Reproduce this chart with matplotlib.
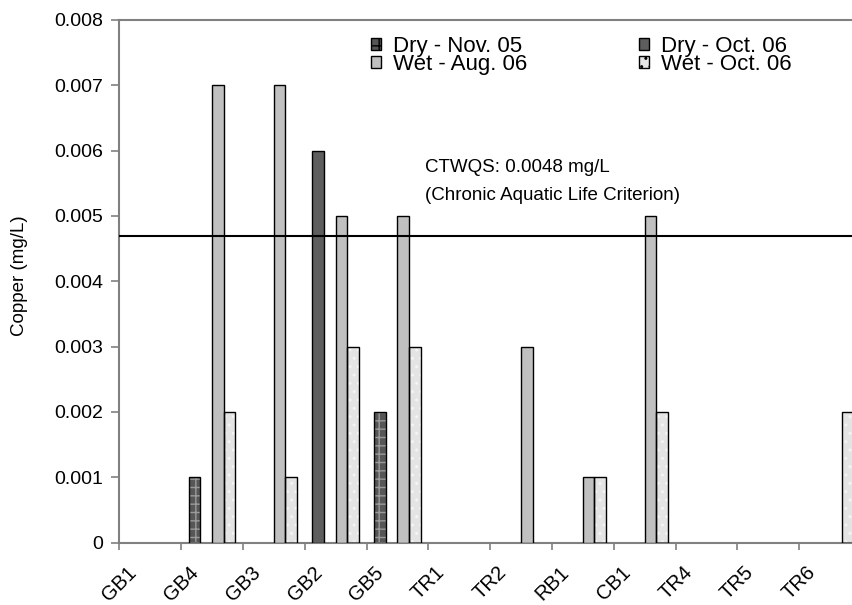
import matplotlib.pyplot as plt
import numpy as np
from matplotlib.patches import Patch

plt.rcParams['font.family'] = ['Liberation Sans', 'DejaVu Sans']

# site order along the x axis
sites = ['GB1', 'GB4', 'GB3', 'GB2', 'GB5', 'TR1', 'TR2', 'RB1', 'CB1', 'TR4', 'TR5', 'TR6']

# copper concentrations (mg/L), nan = no bar
dry_nov05 = [np.nan, 0.001, np.nan, np.nan, 0.002, np.nan, np.nan, np.nan, np.nan, np.nan, np.nan, np.nan]
dry_oct06 = [np.nan, np.nan, np.nan, 0.006, np.nan, np.nan, np.nan, np.nan, np.nan, np.nan, np.nan, np.nan]
wet_aug06 = [np.nan, 0.007, 0.007, 0.005, 0.005, np.nan, 0.003, 0.001, 0.005, np.nan, np.nan, np.nan]
wet_oct06 = [np.nan, 0.002, 0.001, 0.003, 0.003, np.nan, np.nan, 0.001, 0.002, np.nan, np.nan, 0.002]

criterion = 0.0047
yticks = [0, 0.001, 0.002, 0.003, 0.004, 0.005, 0.006, 0.007, 0.008]

# label, values, slot in group, face, hatch, hatch colour
series = [
    ('Dry - Nov. 05', dry_nov05, 0, '#565656', '++', '#9a9a9a'),
    ('Dry - Oct. 06', dry_oct06, 0, '#5e5e5e', None, None),
    ('Wet - Aug. 06', wet_aug06, 2, '#c0c0c0', None, None),
    ('Wet - Oct. 06', wet_oct06, 3, '#e4e4e4', '..', '#f4f4f4'),
]

fig = plt.figure(figsize=(8.53, 6.05), dpi=100)
ax = fig.add_axes([119.5 / 853, 62.5 / 605, 741.5 / 853, 522.5 / 605])

pad = 0.123
w = 0.1877
x = np.arange(len(sites))
for label, vals, slot, face, hatch, hcol in series:
    vals = np.array(vals)
    ok = ~np.isnan(vals)
    xs = x[ok] + pad + w * (slot + 0.5)
    if hatch:
        ax.bar(xs, vals[ok], w, color=face, hatch=hatch, edgecolor=hcol, linewidth=0, zorder=2)
        ax.bar(xs, vals[ok], w, fill=False, edgecolor='black', linewidth=1.0, zorder=3)
    else:
        ax.bar(xs, vals[ok], w, color=face, edgecolor='black', linewidth=1.0, zorder=3)

ax.axhline(criterion, color='black', linewidth=1.5, zorder=4)
ax.text(4.94, 0.00587, 'CTWQS: 0.0048 mg/L\n(Chronic Aquatic Life Criterion)',
        fontsize=13.5, va='top', ha='left', linespacing=1.8)

ax.set_xlim(0, len(sites))
ax.set_ylim(0, 0.008)
ax.set_xticks(x)
ax.set_xticklabels(sites, rotation=45, ha='center', va='top', fontsize=14.5)
ax.set_yticks(yticks)
ax.set_yticklabels(['0' if v == 0 else f'{v:.3f}' for v in yticks], fontsize=14)
ax.tick_params(axis='x', length=5, width=1.2, color='#808080', pad=9.5)
ax.tick_params(axis='y', length=5.5, width=1.2, color='#808080', pad=6)
for s in ['left', 'bottom', 'top']:
    ax.spines[s].set_color('#808080')
    ax.spines[s].set_linewidth(1.5)
ax.spines['right'].set_visible(False)

fig.text(20 / 853, 1 - 276 / 605, 'Copper (mg/L)', rotation=90, fontsize=13.5,
         ha='center', va='center')

handles = []
for label, vals, slot, face, hatch, hcol in series:
    handles.append(Patch(facecolor=face, edgecolor='black', hatch=hatch, linewidth=1.0, label=label))
order = [0, 2, 1, 3]
fig.legend([handles[i] for i in order], [series[i][0] for i in order],
           loc='upper left', bbox_to_anchor=(371 / 853, 1 - 36 / 605), ncol=2,
           frameon=False, fontsize=16, borderpad=0, borderaxespad=0,
           handlelength=0.46, handleheight=0.46, handletextpad=0.55,
           columnspacing=5.0, labelspacing=-0.12)

fig.savefig('out.png', dpi=100)
